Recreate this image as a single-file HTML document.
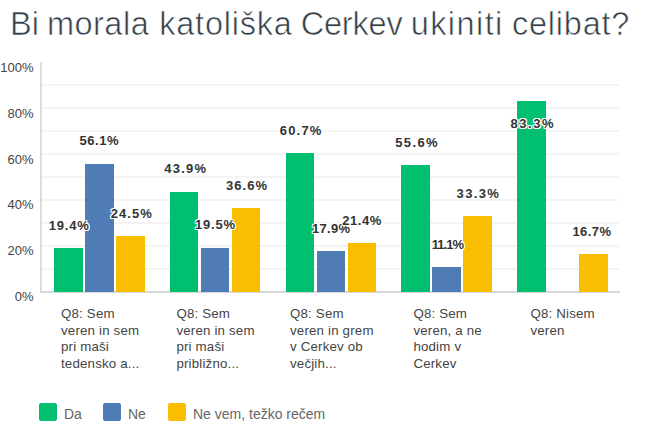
<!DOCTYPE html>
<html><head><meta charset="utf-8"><style>
html,body{margin:0;padding:0;background:#fff;width:650px;height:430px;overflow:hidden;position:relative;font-family:"Liberation Sans",sans-serif;}
.title{position:absolute;left:10.5px;top:4px;font-size:32.5px;line-height:40px;color:#333e48;white-space:nowrap;letter-spacing:0.5px;-webkit-text-stroke:0.6px #fff;}
.grid{position:absolute;left:42px;width:577px;height:2px;background:#f4f4f4;}
.axisv{position:absolute;left:40px;top:62px;width:2px;height:230px;background:#dcdcdc;}
.axish{position:absolute;left:40px;top:291px;width:580px;height:2px;background:#d8d8d8;}
.yl{position:absolute;left:0;width:33.5px;text-align:right;font-size:13px;line-height:16px;color:#444;}
.bar{position:absolute;width:28.5px;}
.bl{position:absolute;width:80px;text-align:center;font-size:13px;line-height:16px;font-weight:bold;color:#333;letter-spacing:0.8px;padding-left:0.8px;text-shadow:1px 0 #fff,-1px 0 #fff,0 1px #fff,0 -1px #fff,1px 1px #fff,-1px -1px #fff,1px -1px #fff,-1px 1px #fff;}
.xl{position:absolute;top:306px;font-size:13.3px;line-height:16.5px;color:#444;letter-spacing:0.18px;white-space:nowrap;}
.sw{position:absolute;top:403px;width:18px;height:18px;border-radius:2px;}
.lg{position:absolute;top:405px;font-size:14px;line-height:18px;color:#666;white-space:nowrap;}
</style></head><body>
<div class="title" style="left:10px;letter-spacing:0px">Bi</div>
<div class="title" style="left:46.9px;letter-spacing:0.5px">morala</div>
<div class="title" style="left:159.3px;letter-spacing:0.75px">katoliška</div>
<div class="title" style="left:300.7px;letter-spacing:-0.18px">Cerkev</div>
<div class="title" style="left:410.7px;letter-spacing:1.42px">ukiniti</div>
<div class="title" style="left:511.9px;letter-spacing:0.79px">celibat?</div>
<div class="grid" style="top:267.6px"></div>
<div class="grid" style="top:244.7px"></div>
<div class="grid" style="top:221.8px"></div>
<div class="grid" style="top:198.9px"></div>
<div class="grid" style="top:176.0px"></div>
<div class="grid" style="top:153.1px"></div>
<div class="grid" style="top:130.2px"></div>
<div class="grid" style="top:107.3px"></div>
<div class="grid" style="top:84.4px"></div>
<div class="yl" style="top:289.0px">0%</div>
<div class="yl" style="top:243.2px">20%</div>
<div class="yl" style="top:197.4px">40%</div>
<div class="yl" style="top:151.6px">60%</div>
<div class="yl" style="top:105.8px">80%</div>
<div class="yl" style="top:60.0px">100%</div>
<div class="axisv"></div>
<div class="axish"></div>
<div class="bar" style="left:54.05px;top:247.82px;height:44.18px;background:#00bf6f"></div>
<div class="bar" style="left:85.05px;top:163.78px;height:128.22px;background:#507cb6"></div>
<div class="bar" style="left:116.05px;top:236.14px;height:55.86px;background:#f9be00"></div>
<div class="bar" style="left:169.80px;top:191.72px;height:100.28px;background:#00bf6f"></div>
<div class="bar" style="left:200.80px;top:247.59px;height:44.41px;background:#507cb6"></div>
<div class="bar" style="left:231.80px;top:208.44px;height:83.56px;background:#f9be00"></div>
<div class="bar" style="left:285.55px;top:153.25px;height:138.75px;background:#00bf6f"></div>
<div class="bar" style="left:316.55px;top:251.26px;height:40.74px;background:#507cb6"></div>
<div class="bar" style="left:347.55px;top:243.24px;height:48.76px;background:#f9be00"></div>
<div class="bar" style="left:401.30px;top:164.93px;height:127.07px;background:#00bf6f"></div>
<div class="bar" style="left:432.30px;top:266.83px;height:25.17px;background:#507cb6"></div>
<div class="bar" style="left:463.30px;top:215.99px;height:76.01px;background:#f9be00"></div>
<div class="bar" style="left:517.05px;top:101.49px;height:190.51px;background:#00bf6f"></div>
<div class="bar" style="left:579.05px;top:254.01px;height:37.99px;background:#f9be00"></div>
<div class="bl" style="left:28.30px;top:217.52px;letter-spacing:0.80px;padding-left:0.80px">19.4%</div>
<div class="bl" style="left:58.80px;top:133.48px;letter-spacing:0.55px;padding-left:0.55px">56.1%</div>
<div class="bl" style="left:90.80px;top:205.84px;letter-spacing:1.05px;padding-left:1.05px">24.5%</div>
<div class="bl" style="left:144.55px;top:161.42px;letter-spacing:1.25px;padding-left:1.25px">43.9%</div>
<div class="bl" style="left:174.65px;top:217.29px;letter-spacing:0.80px;padding-left:0.80px">19.5%</div>
<div class="bl" style="left:206.05px;top:178.14px;letter-spacing:1.00px;padding-left:1.00px">36.6%</div>
<div class="bl" style="left:260.00px;top:122.95px;letter-spacing:1.20px;padding-left:1.20px">60.7%</div>
<div class="bl" style="left:290.80px;top:220.96px;letter-spacing:0.30px;padding-left:0.30px">17.9%</div>
<div class="bl" style="left:321.50px;top:212.94px;letter-spacing:0.60px;padding-left:0.60px">21.4%</div>
<div class="bl" style="left:375.75px;top:134.63px;letter-spacing:1.40px;padding-left:1.40px">55.6%</div>
<div class="bl" style="left:406.65px;top:236.53px;letter-spacing:-0.95px;padding-left:-0.95px">11.1%</div>
<div class="bl" style="left:437.05px;top:185.69px;letter-spacing:1.35px;padding-left:1.35px">33.3%</div>
<div class="bl" style="left:491.30px;top:116.00px;letter-spacing:1.50px;padding-left:1.50px">83.3%</div>
<div class="bl" style="left:551.55px;top:223.71px;letter-spacing:0.43px;padding-left:0.43px">16.7%</div>
<div class="xl" style="left:61px">Q8: Sem<br>veren in sem<br>pri maši<br>tedensko a...</div>
<div class="xl" style="left:176.4px">Q8: Sem<br>veren in sem<br>pri maši<br>približno...</div>
<div class="xl" style="left:290px">Q8: Sem<br>veren in grem<br>v Cerkev ob<br>večjih...</div>
<div class="xl" style="left:413.4px">Q8: Sem<br>veren, a ne<br>hodim v<br>Cerkev</div>
<div class="xl" style="left:530.4px">Q8: Nisem<br>veren</div>
<div class="sw" style="left:39px;background:#00bf6f"></div><div class="lg" style="left:64px">Da</div>
<div class="sw" style="left:103px;background:#507cb6"></div><div class="lg" style="left:128px">Ne</div>
<div class="sw" style="left:167.5px;background:#f9be00"></div><div class="lg" style="left:193px">Ne vem, težko rečem</div>
</body></html>
